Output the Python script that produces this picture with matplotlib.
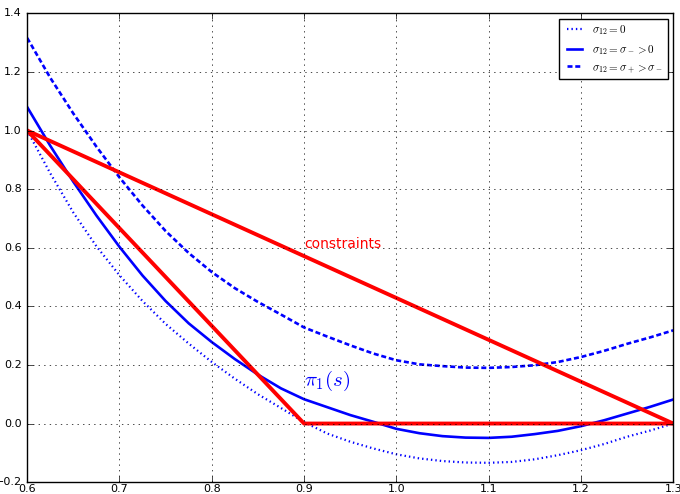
import matplotlib
matplotlib.use("Agg")
import matplotlib.pyplot as plt

plt.style.use('classic')
plt.rcParams['figure.facecolor'] = 'white'
plt.rcParams['savefig.facecolor'] = 'white'
plt.rcParams['lines.scale_dashes'] = False
plt.rcParams['mathtext.fontset'] = 'cm'

# values, step 0.025
s = [0.6, 0.625, 0.65, 0.675, 0.7, 0.725, 0.75, 0.775, 0.8, 0.825, 0.85, 0.875,
     0.9, 0.925, 0.95, 0.975, 1.0, 1.025, 1.05, 1.075, 1.1, 1.125, 1.15, 1.175,
     1.2, 1.225, 1.25, 1.275, 1.3]
pi_zero = [1.0, 0.854, 0.72, 0.605, 0.506, 0.418, 0.34, 0.273, 0.21, 0.153, 0.1, 0.053,
           0.005, -0.034, -0.062, -0.085, -0.105, -0.119, -0.128, -0.133, -0.134, -0.131, -0.122, -0.108,
           -0.091, -0.07, -0.045, -0.024, 0.0]
pi_minus = [1.08, 0.948, 0.825, 0.71, 0.603, 0.505, 0.418, 0.342, 0.278, 0.22, 0.167, 0.12,
            0.083, 0.056, 0.029, 0.006, -0.018, -0.033, -0.043, -0.048, -0.049, -0.045, -0.036, -0.025,
            -0.009, 0.011, 0.034, 0.057, 0.082]
pi_plus = [1.316, 1.18, 1.058, 0.945, 0.84, 0.744, 0.657, 0.582, 0.517, 0.462, 0.415, 0.372,
           0.328, 0.297, 0.267, 0.239, 0.216, 0.202, 0.196, 0.191, 0.19, 0.193, 0.199, 0.21,
           0.227, 0.248, 0.272, 0.294, 0.318]

# constraint lines
c1_x = [0.6, 1.3]
c1_y = [1.0, 0.0]
c2_x = [0.6, 0.9, 1.3]
c2_y = [1.0, 0.0, 0.0]

fig = plt.figure(figsize=(6.8, 4.94), dpi=100)
ax = fig.add_axes([0.04, 0.024, 0.95, 0.949])

ax.plot(s, pi_zero, color='blue', lw=1.6, linestyle=(0, (1.0, 2.2)), label=r'$\sigma_{12} = 0$')
ax.plot(s, pi_minus, color='blue', lw=1.9, linestyle='-', label=r'$\sigma_{12} = \sigma_- > 0$')
ax.plot(s, pi_plus, color='blue', lw=1.9, linestyle=(0, (3.6, 2.0)), label=r'$\sigma_{12} = \sigma_+ > \sigma_-$')

ax.plot(c1_x, c1_y, color='red', lw=2.8)
ax.plot(c2_x, c2_y, color='red', lw=2.8)

ax.text(0.9, 0.6, 'constraints', color='red', fontsize=10)
ax.text(0.9, 0.13, r'$\pi_1(s)$', color='blue', fontsize=15)

ax.set_xlim(0.6, 1.3)
ax.set_ylim(-0.2, 1.4)
ax.grid(True)
ax.tick_params(labelsize=8)
ax.tick_params(axis='x', pad=1.5)
ax.legend(loc='upper right', fontsize=8, handlelength=2.0, handletextpad=0.6)

fig.savefig('out.png', dpi=100)
